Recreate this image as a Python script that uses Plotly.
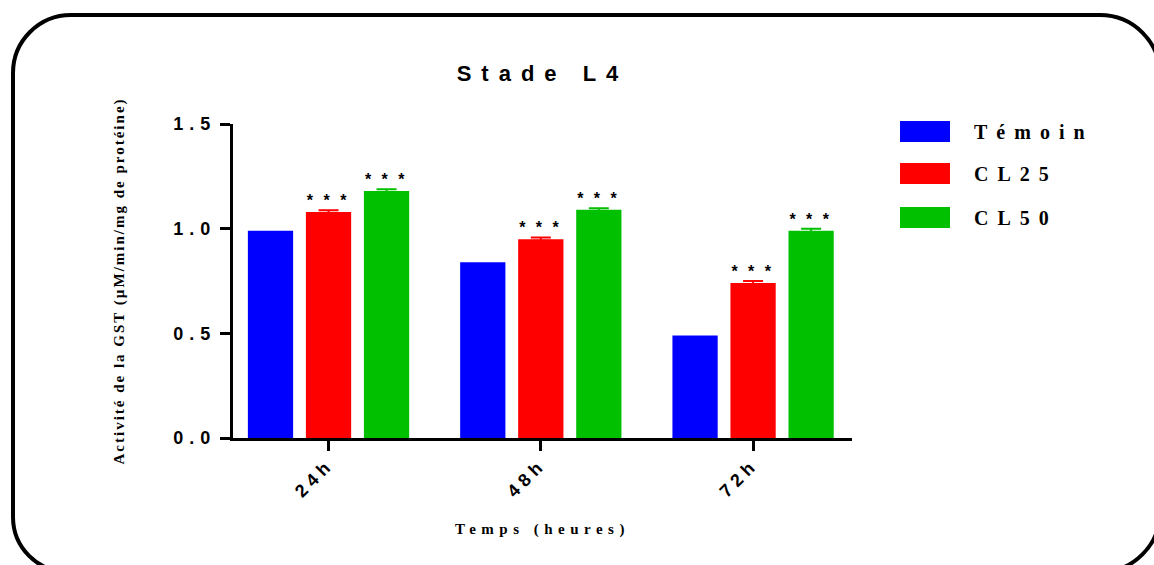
import plotly.graph_objects as go

# ---- data ----
categories = ["24h", "48h", "72h"]
series_names = ["Témoin", "CL25", "CL50"]
temoin = [0.99, 0.84, 0.49]
cl25 = [1.08, 0.95, 0.74]
cl50 = [1.18, 1.09, 0.99]
err_temoin = [0.0, 0.0, 0.0]
err_cl25 = [0.008, 0.008, 0.01]
err_cl50 = [0.008, 0.008, 0.01]
signif_temoin = ["", "", ""]
signif_cl25 = ["* * *", "* * *", "* * *"]
signif_cl50 = ["* * *", "* * *", "* * *"]
y_tick_vals = [0.0, 0.5, 1.0, 1.5]
y_tick_text = ["0.0", "0.5", "1.0", "1.5"]

colors = ["#0000FF", "#FF0000", "#00C000"]

W, H = 1154, 565
L, R, T, B = 233, 852, 124, 438  # plot area in px


def px(x):
    return (x - L) / (R - L)


def py(y):
    return (B - y) / (B - T)


fig = go.Figure()
values = [temoin, cl25, cl50]
errors = [err_temoin, err_cl25, err_cl50]
texts = [signif_temoin, signif_cl25, signif_cl50]
for name, vals, errs, txt, col in zip(series_names, values, errors, texts, colors):
    fig.add_trace(go.Bar(
        name=name, x=categories, y=vals,
        marker=dict(color=col, line=dict(width=0)),
        error_y=dict(type="data", array=errs, visible=any(e > 0 for e in errs),
                     color=col, thickness=2, width=10),
        text=txt, textposition="outside", cliponaxis=False,
        constraintext="none",
        textfont=dict(family="Liberation Sans", size=16, color="black", weight="bold"),
        showlegend=False,
    ))

sans = "Liberation Sans"
serif = "Liberation Serif"


def frame_path(l, t, r, b, r_tl, r_tr, r_br, r_bl):
    k = 0.5523
    pts = []
    pts.append(f"M {px(l + r_tl)},{py(t)}")
    pts.append(f"L {px(r - r_tr)},{py(t)}")
    pts.append(f"C {px(r - r_tr + k * r_tr)},{py(t)} {px(r)},{py(t + r_tr - k * r_tr)} {px(r)},{py(t + r_tr)}")
    pts.append(f"L {px(r)},{py(b - r_br)}")
    pts.append(f"C {px(r)},{py(b - r_br + k * r_br)} {px(r - r_br + k * r_br)},{py(b)} {px(r - r_br)},{py(b)}")
    pts.append(f"L {px(l + r_bl)},{py(b)}")
    pts.append(f"C {px(l + r_bl - k * r_bl)},{py(b)} {px(l)},{py(b - r_bl + k * r_bl)} {px(l)},{py(b - r_bl)}")
    pts.append(f"L {px(l)},{py(t + r_tl)}")
    pts.append(f"C {px(l)},{py(t + r_tl - k * r_tl)} {px(l + r_tl - k * r_tl)},{py(t)} {px(l + r_tl)},{py(t)}")
    pts.append("Z")
    return " ".join(pts)


shapes = [dict(type="path", xref="paper", yref="paper",
               path=frame_path(13, 15, 1160, 572, 58, 60, 60, 55),
               line=dict(color="black", width=4), fillcolor="rgba(0,0,0,0)",
               layer="above")]

LEG_SPACING = 9
annotations = []
legend_y = [(121, 142), (163, 184), (207, 228)]
for name, col, (y0, y1) in zip(series_names, colors, legend_y):
    shapes.append(dict(type="rect", xref="paper", yref="paper",
                       x0=px(900), x1=px(950), y0=py(y1), y1=py(y0),
                       fillcolor=col, line=dict(width=0)))
    annotations.append(dict(xref="paper", yref="paper", x=px(972), y=py((y0 + y1) / 2),
                            xanchor="left", yanchor="middle", showarrow=False,
                            xshift=len(name) * LEG_SPACING / 2,
                            text=name,
                            font=dict(family=serif, size=20, color="black", weight="bold")))

fig.update_layout(
    width=W, height=H,
    margin=dict(l=L, r=W - R, t=T, b=H - B, autoexpand=False),
    paper_bgcolor="white", plot_bgcolor="white",
    barmode="group", bargap=0.18, bargroupgap=0.22,
    title=dict(text="Stade L4", x=0.5, xref="paper", xanchor="center",
               y=1 - 73 / H, yref="container", yanchor="middle",
               font=dict(family=sans, size=22, color="black", weight="bold")),
    xaxis=dict(type="category", range=[-0.45, 2.466],
               showline=True, linecolor="black", linewidth=3,
               ticks="outside", ticklen=10, tickwidth=3, tickcolor="black",
               tickangle=-45, showgrid=False, zeroline=False,
               ticklabelstandoff=-4,
               tickfont=dict(family=sans, size=18, color="black", weight="bold"),
               title=dict(text="Temps (heures)", standoff=34,
                          font=dict(family=serif, size=15, color="black", weight="bold"))),
    yaxis=dict(range=[0, 1.5], tickvals=y_tick_vals, ticktext=y_tick_text,
               showline=True, linecolor="black", linewidth=3,
               ticks="outside", ticklen=10, tickwidth=3, tickcolor="black",
               showgrid=False, zeroline=False,
               tickfont=dict(family=sans, size=18, color="black", weight="bold"),
               title=dict(text="Activité de la GST (µM/min/mg de protéine)", standoff=64,
                          font=dict(family=serif, size=15, color="black", weight="bold"))),
    shapes=shapes,
    annotations=annotations,
)

post = """
var s = document.createElement('style');
s.textContent = "body{margin:0;overflow:hidden;}" +
  ".gtitle{letter-spacing:10px;}" +
  ".ytick text{letter-spacing:6px;}" +
  ".xtick text{letter-spacing:5px;}" +
  ".ytitle{letter-spacing:2px;}" +
  ".xtitle{letter-spacing:5.5px;}" +
  ".annotation-text{letter-spacing:9px;}" +
  "text.bartext{letter-spacing:3px;}";
document.head.appendChild(s);
"""

fig.write_html("out.html", post_script=post, config={"displayModeBar": False})
